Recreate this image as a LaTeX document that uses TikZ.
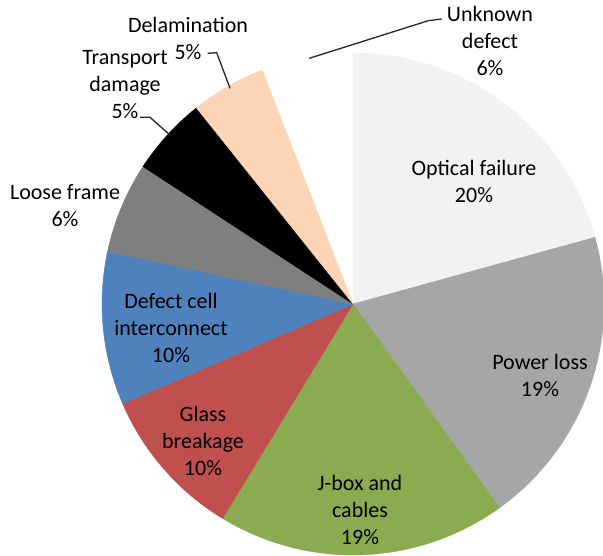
\documentclass[tikz,border=0pt]{standalone}
\usepackage{fontspec}
\setmainfont{Carlito}
\begin{document}
\begin{tikzpicture}[x=1pt,y=1pt,
  lbl/.style={align=center,inner sep=0pt,text=black,font=\fontsize{22}{27}\selectfont},
  leader/.style={draw=black!85,line width=1.3pt},
  slice/.style={fill=#1,draw=#1,line width=0.4pt,line join=round}]
\definecolor{optc}{HTML}{F2F2F2}
\definecolor{powc}{HTML}{A6A6A6}
\definecolor{jboxc}{HTML}{8AAB4F}
\definecolor{glassc}{HTML}{C0504D}
\definecolor{cellc}{HTML}{4F81BD}
\definecolor{framec}{HTML}{7F7F7F}
\definecolor{delamc}{HTML}{FBD5B5}
\fill[white] (0,0) rectangle (603,556);
\useasboundingbox (0,0) rectangle (603,556);
\coordinate (C) at (353,252);
\def\R{251}
\path[slice=optc]   (C) -- ++(90:\R)    arc[start angle=90,    end angle=15.4,   radius=\R] -- cycle;
\path[slice=powc]   (C) -- ++(15.4:\R)  arc[start angle=15.4,  end angle=-54.3,  radius=\R] -- cycle;
\path[slice=jboxc]  (C) -- ++(-54.3:\R) arc[start angle=-54.3, end angle=-121.3, radius=\R] -- cycle;
\path[slice=glassc] (C) -- ++(-121.3:\R) arc[start angle=-121.3, end angle=-156.6, radius=\R] -- cycle;
\path[slice=cellc]  (C) -- ++(-156.6:\R) arc[start angle=-156.6, end angle=-192.1, radius=\R] -- cycle;
\path[slice=framec] (C) -- ++(167.9:\R) arc[start angle=167.9, end angle=146.8, radius=\R] -- cycle;
\path[slice=black]  (C) -- ++(146.8:\R) arc[start angle=146.8, end angle=128.6, radius=\R] -- cycle;
\path[slice=delamc] (C) -- ++(128.6:\R) arc[start angle=128.6, end angle=111.2, radius=\R] -- cycle;

\node[lbl] (opt) at (474,375) {Optical failure\\20\%};
\node[lbl] (pow) at (540,181) {Power loss\\19\%};
\node[lbl] (jbox) at (360,46) {J-box and\\cables\\19\%};
\node[lbl] (glass) at (203,115) {Glass\\breakage\\10\%};
\node[lbl] (cell) at (171,228) {Defect cell\\interconnect\\10\%};
\node[lbl] (frame) at (65,350) {Loose frame\\6\%};
\node[lbl] (trans) at (125,471) {Transport\\damage\\5\%};
\node[lbl] (delam) at (188,518) {Delamination\\5\%};
\node[lbl] (unk) at (490,515) {Unknown\\defect\\6\%};

\coordinate (delamA) at (207.7,502.7);
\coordinate (delamB) at (216.7,503.3);
\coordinate (delamE) at (230,467.7);
\draw[leader] (delamA) -- (delamB) -- (delamE);
\coordinate (transA) at (140,438.7);
\coordinate (transB) at (150,438.7);
\coordinate (transE) at (170,421);
\draw[leader] (transA) -- (transB) -- (transE);
\coordinate (unkE) at (309.3,497.7);
\coordinate (unkB) at (428.3,535.3);
\coordinate (unkA) at (441.7,537);
\draw[leader] (unkE) -- (unkB) -- (unkA);
\end{tikzpicture}
\end{document}
